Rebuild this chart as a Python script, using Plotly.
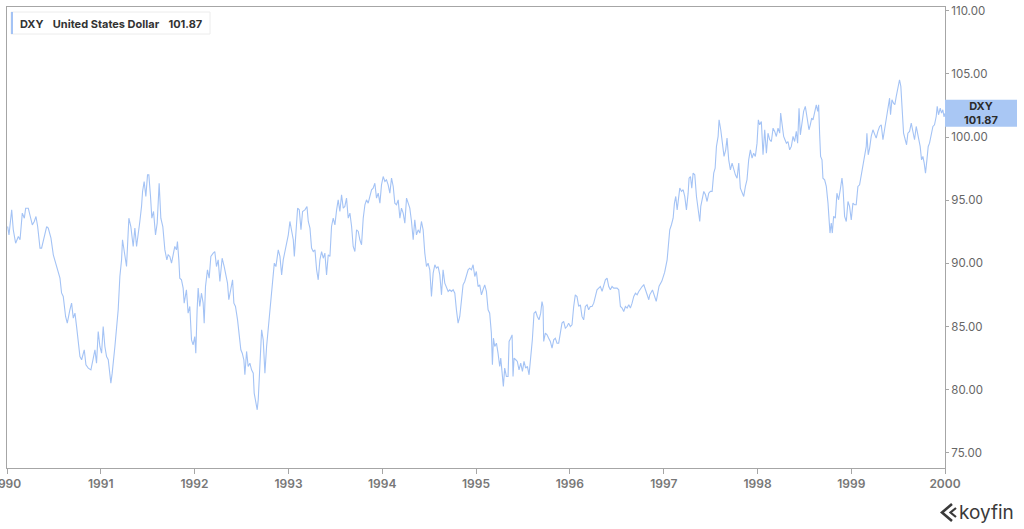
import datetime as dt
import plotly.graph_objects as go

# ---- data ----
t_year = [
    1990.007, 1990.021, 1990.050, 1990.067, 1990.092, 1990.121, 1990.139, 1990.163, 1990.185, 1990.199,
    1990.227, 1990.245, 1990.270, 1990.291, 1990.309, 1990.327, 1990.352, 1990.369, 1990.398, 1990.423,
    1990.440, 1990.469, 1990.494, 1990.519, 1990.547, 1990.565, 1990.582, 1990.600, 1990.625, 1990.643,
    1990.671, 1990.689, 1990.707, 1990.725, 1990.742, 1990.760, 1990.778, 1990.796, 1990.824, 1990.842,
    1990.867, 1990.895, 1990.920, 1990.938, 1990.955, 1990.973, 1990.991, 1991.009, 1991.026, 1991.044,
    1991.062, 1991.080, 1991.108, 1991.122, 1991.151, 1991.169, 1991.186, 1991.204, 1991.222, 1991.232,
    1991.250, 1991.275, 1991.300, 1991.321, 1991.346, 1991.364, 1991.382, 1991.399, 1991.417, 1991.435,
    1991.446, 1991.463, 1991.481, 1991.499, 1991.513, 1991.531, 1991.545, 1991.563, 1991.584, 1991.602,
    1991.623, 1991.641, 1991.662, 1991.684, 1991.705, 1991.719, 1991.737,
    1991.755, 1991.772, 1991.790, 1991.808, 1991.818, 1991.833, 1991.843, 1991.861, 1991.879, 1991.890,
    1991.904, 1991.914, 1991.932, 1991.950, 1991.968, 1991.985, 1992.003, 1992.014, 1992.028, 1992.039,
    1992.056, 1992.074, 1992.092, 1992.103, 1992.117, 1992.138, 1992.156, 1992.174, 1992.199, 1992.216,
    1992.234, 1992.252, 1992.270, 1992.280, 1992.294, 1992.316, 1992.333, 1992.351, 1992.365, 1992.383,
    1992.405, 1992.419, 1992.436, 1992.458, 1992.476, 1992.493, 1992.508, 1992.525, 1992.536, 1992.554,
    1992.571, 1992.589, 1992.607, 1992.625, 1992.635, 1992.650, 1992.667, 1992.678, 1992.696, 1992.714,
    1992.731, 1992.749, 1992.767, 1992.785, 1992.802, 1992.813, 1992.831, 1992.849, 1992.866, 1992.891,
    1992.909, 1992.927, 1992.944, 1992.962, 1992.980, 1992.998, 1993.015, 1993.033, 1993.051, 1993.062,
    1993.079, 1993.097, 1993.115, 1993.133, 1993.150, 1993.175, 1993.197, 1993.211, 1993.229, 1993.246,
    1993.264, 1993.282, 1993.300, 1993.317, 1993.335, 1993.353, 1993.371, 1993.388, 1993.406, 1993.424,
    1993.442,
    1993.459, 1993.477, 1993.495, 1993.513, 1993.530, 1993.548, 1993.566, 1993.584, 1993.601, 1993.619,
    1993.637, 1993.655, 1993.673, 1993.690, 1993.708, 1993.726, 1993.744, 1993.761, 1993.779, 1993.797,
    1993.815, 1993.832, 1993.850, 1993.868, 1993.886, 1993.903, 1993.921, 1993.939, 1993.957, 1993.975,
    1993.992, 1994.010, 1994.028, 1994.045, 1994.063, 1994.081, 1994.099, 1994.117, 1994.134, 1994.152,
    1994.170, 1994.188, 1994.205, 1994.223, 1994.241, 1994.259, 1994.276, 1994.294, 1994.312, 1994.330,
    1994.347, 1994.365, 1994.383, 1994.401, 1994.418, 1994.436, 1994.454, 1994.472, 1994.489, 1994.507,
    1994.525, 1994.543, 1994.561, 1994.578, 1994.596, 1994.614, 1994.632, 1994.649, 1994.667, 1994.685,
    1994.703, 1994.720, 1994.738, 1994.756, 1994.774, 1994.791, 1994.809, 1994.827, 1994.845, 1994.862,
    1994.880, 1994.898, 1994.916, 1994.933, 1994.951, 1994.969, 1994.987, 1995.004, 1995.022, 1995.040,
    1995.058, 1995.075, 1995.093, 1995.111, 1995.129, 1995.146,
    1995.164, 1995.175, 1995.186, 1995.200, 1995.218, 1995.235, 1995.253, 1995.264, 1995.278, 1995.292,
    1995.306, 1995.324, 1995.342, 1995.353, 1995.370, 1995.385, 1995.395, 1995.406, 1995.424, 1995.441,
    1995.459, 1995.477, 1995.495, 1995.512, 1995.530, 1995.548, 1995.566, 1995.583, 1995.601, 1995.619,
    1995.637, 1995.654, 1995.672, 1995.690, 1995.704, 1995.715, 1995.722, 1995.740, 1995.758, 1995.775,
    1995.793, 1995.811, 1995.829, 1995.846, 1995.864, 1995.882, 1995.900, 1995.917, 1995.935, 1995.953,
    1995.971, 1995.988, 1996.006, 1996.024, 1996.042, 1996.059, 1996.077, 1996.095, 1996.113, 1996.130,
    1996.148, 1996.166, 1996.184, 1996.201, 1996.219, 1996.237, 1996.255, 1996.272, 1996.290, 1996.308,
    1996.326, 1996.344, 1996.361, 1996.379, 1996.397, 1996.415, 1996.432, 1996.450, 1996.468, 1996.486,
    1996.503, 1996.521, 1996.539, 1996.557, 1996.574, 1996.592, 1996.610, 1996.628, 1996.645, 1996.663,
    1996.681, 1996.699, 1996.717, 1996.734, 1996.752, 1996.770, 1996.788, 1996.805, 1996.823, 1996.841,
    1996.851, 1996.880, 1996.920, 1996.950, 1996.980, 1997.010,
    1997.036, 1997.050, 1997.064, 1997.082, 1997.100, 1997.114, 1997.128, 1997.143, 1997.157, 1997.171,
    1997.189, 1997.207, 1997.224, 1997.242, 1997.260, 1997.270, 1997.285, 1997.299, 1997.313, 1997.331,
    1997.349, 1997.366, 1997.384, 1997.395, 1997.409, 1997.427, 1997.445, 1997.462, 1997.480, 1997.498,
    1997.516, 1997.533, 1997.548, 1997.562, 1997.580, 1997.590, 1997.608, 1997.626, 1997.643, 1997.661,
    1997.675, 1997.693, 1997.711, 1997.729, 1997.746, 1997.764, 1997.782, 1997.800, 1997.817, 1997.835,
    1997.853, 1997.871, 1997.888, 1997.906, 1997.924, 1997.942, 1997.959, 1997.977, 1997.995, 1998.009,
    1998.023, 1998.041, 1998.059, 1998.077, 1998.095, 1998.112, 1998.130, 1998.148, 1998.166, 1998.183,
    1998.201, 1998.219, 1998.237, 1998.247, 1998.265, 1998.279, 1998.293, 1998.308, 1998.325, 1998.343,
    1998.361, 1998.379, 1998.396, 1998.414, 1998.428, 1998.443,
    1998.457, 1998.475, 1998.492, 1998.510, 1998.521, 1998.538, 1998.549, 1998.563, 1998.578, 1998.592,
    1998.610, 1998.627, 1998.642, 1998.652, 1998.663, 1998.673, 1998.688, 1998.698, 1998.716, 1998.734,
    1998.752, 1998.762, 1998.773, 1998.787, 1998.798, 1998.812, 1998.830, 1998.847, 1998.865, 1998.883,
    1998.901, 1998.911, 1998.929, 1998.947, 1998.965, 1998.982, 1999.000, 1999.018, 1999.036, 1999.053,
    1999.071, 1999.089, 1999.107, 1999.125, 1999.142, 1999.160, 1999.167, 1999.181, 1999.196, 1999.213,
    1999.231, 1999.249, 1999.266, 1999.284, 1999.302, 1999.320, 1999.338, 1999.355, 1999.373, 1999.391,
    1999.409, 1999.419, 1999.434, 1999.451, 1999.465, 1999.480, 1999.497, 1999.515, 1999.529, 1999.544,
    1999.558, 1999.576, 1999.590, 1999.604, 1999.622, 1999.640, 1999.657, 1999.675, 1999.693, 1999.711,
    1999.721, 1999.735, 1999.750, 1999.764, 1999.778, 1999.792, 1999.807, 1999.821, 1999.835, 1999.853,
    1999.871, 1999.888, 1999.906, 1999.917, 1999.931, 1999.949, 1999.963, 1999.977, 1999.990, 1999.998,
]

dxy = [
    92.92, 92.26, 94.24, 92.66, 91.60, 92.13, 91.87, 93.98, 93.58, 94.37,
    94.37, 93.85, 93.05, 93.32, 93.71, 92.92, 91.21, 91.21, 92.26, 92.92,
    92.79, 92.00, 90.68, 90.02, 89.49, 88.83, 87.66, 87.38, 85.80, 85.27,
    86.33, 86.85, 85.67, 86.06, 85.01, 83.95, 82.63, 82.37, 83.16, 81.97,
    81.71, 81.57, 82.37, 83.16, 82.10, 84.61, 83.42, 82.89, 85.00, 83.42,
    82.63, 82.37, 80.52, 81.31, 83.42, 84.74, 86.33, 88.96, 90.28, 91.87,
    90.81, 89.76, 93.58, 92.92, 91.34, 92.79, 91.34, 92.13, 93.32, 94.51,
    95.69, 96.48, 95.30, 97.01, 97.01, 95.30, 93.58, 94.11, 92.26, 93.19,
    96.35, 93.58, 92.92, 91.07, 90.28, 90.68, 90.55,
    90.02, 90.68, 91.34, 91.07, 91.73, 90.28, 88.83, 88.70, 88.04, 86.85,
    87.64, 87.91, 86.06, 86.59, 83.95, 83.55, 84.21, 82.89, 86.33, 88.04,
    86.59, 87.64, 86.85, 85.27, 88.17, 89.49, 88.83, 90.55, 90.81, 90.94,
    89.75, 90.28, 88.57, 89.49, 90.41, 89.75, 89.23, 88.44, 87.12, 87.91,
    88.70, 86.85, 86.59, 85.53, 84.21, 83.16, 82.89, 82.37, 81.18, 83.03,
    81.84, 82.10, 81.57, 81.31, 79.73, 78.93, 78.41, 79.20, 82.37, 84.74,
    83.95, 81.31, 83.42, 85.00, 86.59, 87.38, 88.96, 90.02, 89.75, 91.07,
    90.55, 89.09, 90.28, 90.94, 91.73, 92.26, 93.32, 92.66, 91.87, 90.55,
    92.66, 94.37, 94.24, 92.66, 94.11, 94.24, 94.51, 93.32, 92.79, 91.21,
    90.94, 91.07, 89.49, 88.70, 90.28, 90.94, 90.41, 90.81, 89.09, 90.68,
    90.55,
    92.92, 93.58, 93.05, 94.24, 95.03, 94.11, 95.43, 94.37, 94.51, 95.17,
    93.58, 93.98, 92.92, 91.34, 90.94, 92.66, 92.53, 91.87, 91.47, 93.58,
    94.64, 95.03, 94.77, 95.30, 95.83, 95.96, 96.35, 95.17, 95.56, 94.77,
    96.22, 96.88, 96.49, 96.62, 96.22, 95.56, 96.75, 96.09, 94.77, 94.64,
    95.03, 93.58, 94.37, 93.98, 93.19, 95.17, 94.77, 94.37, 93.32, 91.87,
    93.45, 92.26, 92.66, 92.40, 93.32, 92.66, 90.81, 89.75, 90.02, 89.49,
    87.38, 89.23, 89.89, 89.62, 89.75, 89.09, 87.51, 89.49, 88.44, 88.04,
    87.78, 87.91, 87.78, 87.91, 87.64, 86.33, 85.27, 85.80, 87.12, 88.30,
    88.57, 89.09, 89.49, 89.62, 89.49, 89.89, 88.96, 89.36, 88.17, 88.30,
    87.51, 87.91, 88.30, 87.78, 86.33, 86.06,
    84.48, 81.97, 84.08, 83.42, 83.68, 82.89, 81.84, 82.50, 81.31, 80.26,
    81.71, 81.05, 81.05, 83.82, 84.08, 84.34, 81.05, 82.50, 82.37, 82.24,
    81.57, 82.10, 81.44, 82.24, 81.71, 81.84, 81.18, 82.37, 83.95, 86.06,
    86.19, 85.80, 85.53, 86.06, 86.98, 86.59, 83.82, 84.48, 84.34, 84.08,
    83.82, 83.29, 83.95, 84.08, 83.68, 83.68, 84.48, 85.27, 85.40, 84.87,
    85.00, 85.27, 85.00, 85.14, 86.59, 87.51, 87.38, 86.59, 86.72, 85.80,
    85.53, 86.59, 86.72, 86.33, 86.59, 86.59, 86.85, 87.51, 87.91, 88.04,
    88.17, 87.78, 88.17, 88.70, 88.83, 88.17, 87.91, 88.17, 88.04, 88.04,
    88.04, 87.91, 86.59, 86.46, 86.19, 86.59, 86.46, 86.72, 86.46, 86.85,
    87.38, 87.64, 87.51, 87.78, 88.04, 88.17, 88.30, 87.91, 87.51, 87.12,
    87.51, 87.90, 87.00, 88.20, 88.60, 89.30,
    90.28, 91.87, 92.66, 93.06, 93.58, 94.77, 95.30, 94.24, 95.04, 95.96,
    95.70, 95.83, 95.30, 94.24, 95.56, 96.75, 96.88, 95.96, 97.15, 97.01,
    95.30, 94.51, 93.32, 94.51, 95.17, 95.70, 95.43, 94.90, 95.56, 95.70,
    95.70, 97.15, 97.54, 99.26, 100.05, 101.37, 100.58, 99.52, 98.47, 98.99,
    99.92, 98.20, 97.41, 97.94, 97.41, 97.01, 96.75, 97.94, 95.96, 95.56,
    95.30, 96.09, 96.62, 98.20, 98.99, 98.33, 98.73, 98.47, 99.52, 101.37,
    100.97, 101.24, 98.60, 100.58, 98.73, 100.31, 99.79, 99.65, 100.71, 100.45,
    100.05, 100.71, 100.31, 101.90, 100.84, 100.05, 99.79, 99.52, 99.65, 98.99,
    99.26, 100.05, 99.65, 100.45, 99.52, 102.29,
    100.18, 100.97, 102.03, 102.43, 101.77, 101.11, 100.58, 100.97, 101.50, 101.37,
    102.16, 102.56, 102.03, 102.56, 100.18, 98.47, 98.20, 96.75, 96.62, 96.09,
    94.77, 93.45, 92.40, 93.19, 92.40, 93.72, 93.58, 95.56, 95.04, 95.83,
    96.75, 96.09, 93.72, 93.32, 94.90, 94.51, 93.45, 94.77, 94.64, 94.64,
    96.09, 96.22, 97.01, 97.94, 98.73, 99.26, 100.31, 98.60, 99.13, 100.05,
    100.58, 100.18, 99.92, 100.45, 100.84, 100.97, 99.79, 100.58, 101.50, 102.43,
    103.08, 101.77, 102.95, 102.69, 102.56, 103.22, 103.74, 104.54, 104.01, 101.63,
    100.31, 99.79, 99.39, 100.31, 100.45, 101.11, 100.31, 99.79, 100.84, 100.18,
    99.52, 99.26, 98.20, 98.47, 97.94, 97.15, 98.20, 99.26, 99.52, 100.31,
    100.84, 100.97, 101.63, 102.43, 101.77, 102.29, 101.90, 102.16, 101.60, 101.87,
]

y_ticks = [75, 80, 85, 90, 95, 100, 105, 110]
ticker = "DXY"
name = "United States Dollar"
last_value = 101.87


def dec_to_date(t):
    y = int(t)
    start = dt.datetime(y, 1, 1)
    end = dt.datetime(y + 1, 1, 1)
    return start + (end - start) * (t - y)


dates = [dec_to_date(t) for t in t_year]

LINE = "#a4c3f5"
W, H = 1024, 529
ML, MR, MT, MB = 7, 79, 7, 61
PW, PH = W - ML - MR, H - MT - MB


def px(x):
    return (x - ML) / PW


def py(y):
    return (H - MB - y) / PH


fig = go.Figure()
fig.add_trace(go.Scatter(
    x=dates, y=dxy, mode="lines",
    line=dict(color=LINE, width=1.1),
    showlegend=False, hoverinfo="x+y",
))

fig.update_layout(
    width=W, height=H,
    margin=dict(l=ML, r=MR, t=MT, b=MB, autoexpand=False),
    paper_bgcolor="white", plot_bgcolor="white",
    font=dict(family="Inter, Roboto, sans-serif", color="#666666"),
    xaxis=dict(
        type="date", automargin=False,
        range=[dt.datetime(1990, 1, 1), dt.datetime(2000, 1, 1)],
        dtick="M12", tick0="1990-01-01", tickformat="%Y",
        showgrid=False, zeroline=False,
        showline=True, linecolor="#a6a6a6", linewidth=1, mirror=True,
        ticks="outside", ticklen=5, tickcolor="#a6a6a6",
        tickfont=dict(size=12, color="#777777", weight=600),
        ticklabeloverflow="allow",
    ),
    yaxis=dict(
        side="right", automargin=False, range=[73.8, 110.3],
        tickvals=y_ticks, tickformat=".2f",
        showgrid=False, zeroline=False,
        showline=True, linecolor="#a6a6a6", linewidth=1, mirror=True,
        ticks="outside", ticklen=3, tickcolor="#a6a6a6",
        tickfont=dict(size=11.5, color="#666666"),
    ),
)

shapes = [
    # legend box
    dict(type="rect", xref="paper", yref="paper",
         x0=px(11), x1=px(210), y0=py(34), y1=py(12),
         line=dict(color="#ececec", width=1), fillcolor="white", layer="above"),
    dict(type="rect", xref="paper", yref="paper",
         x0=px(11), x1=px(13), y0=py(34), y1=py(12),
         line=dict(width=0), fillcolor=LINE, layer="above"),
    # last price label
    dict(type="rect", xref="paper", yref="y",
         x0=px(945), x1=px(1017), y0=100.82, y1=102.95,
         line=dict(width=0), fillcolor="#a9c7f4", layer="above"),
    # koyfin logo icon
    dict(type="path", xref="paper", yref="paper",
         path=(f"M {px(952)},{py(504)} L {px(942)},{py(512.5)} L {px(952)},{py(521)}"),
         line=dict(color="#3a3a3a", width=2.6), layer="above"),
    dict(type="path", xref="paper", yref="paper",
         path=(f"M {px(956)},{py(508)} L {px(950.5)},{py(512.5)} L {px(956)},{py(517)}"),
         line=dict(color="#3a3a3a", width=2.2), layer="above"),
]
fig.update_layout(shapes=shapes)

NB = "\u00a0"
fig.add_annotation(
    xref="paper", yref="paper", x=px(18), y=py(23.5),
    xanchor="left", yanchor="middle", showarrow=False,
    text=f"<b>{ticker}</b>{NB*3}<b>{name}</b>{NB*3}<b>{last_value:.2f}</b>",
    font=dict(size=11, color="#333333", family="Inter, Roboto, sans-serif"),
)
fig.add_annotation(
    xref="paper", yref="y", x=px(981), y=(100.82 + 102.95) / 2,
    xanchor="center", yanchor="middle", showarrow=False,
    text=f"<b>{ticker}</b><br><b>{last_value:.2f}</b>",
    font=dict(size=11, color="#2b2b2b", family="Inter, Roboto, sans-serif"),
)
fig.add_annotation(
    xref="paper", yref="paper", x=px(957), y=py(512),
    xanchor="left", yanchor="middle", showarrow=False,
    text="koyfin",
    font=dict(size=19, color="#3a3a3a", family="Inter, Roboto, sans-serif"),
)

fig.write_html(
    "out.html",
    config={"displayModeBar": False},
    post_script="document.body.style.margin='0';document.body.style.overflow='hidden';",
)
